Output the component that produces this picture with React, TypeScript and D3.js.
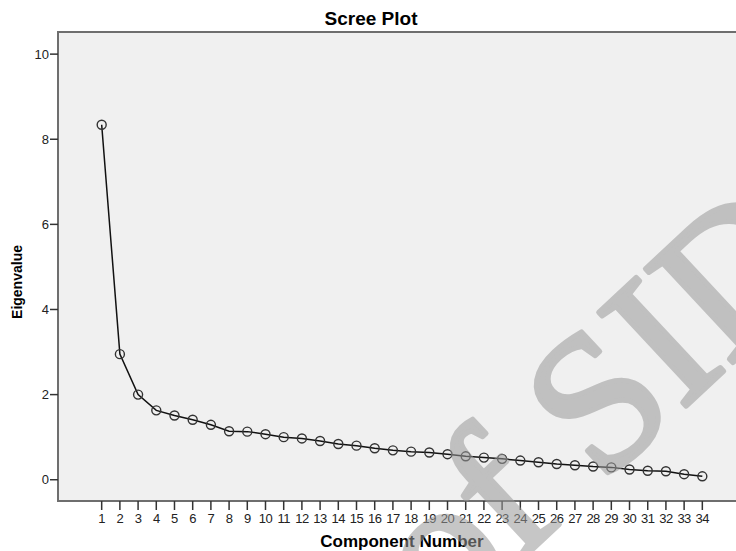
import * as d3 from "d3";
import { useEffect, useRef } from "react";

const components = d3.range(1, 35);
const eigenvalues = [
  8.34, 2.95, 2.0, 1.63, 1.51, 1.41, 1.29, 1.14, 1.13, 1.07,
  1.0, 0.97, 0.91, 0.84, 0.8, 0.74, 0.69, 0.66, 0.64, 0.6,
  0.55, 0.52, 0.49, 0.45, 0.41, 0.37, 0.34, 0.31, 0.29, 0.24,
  0.21, 0.2, 0.13, 0.08,
];
const yTicks = [0, 2, 4, 6, 8, 10];

const width = 736;
const height = 551;
const plotLeft = 58;
const plotTop = 32;
const plotBottom = 501;
const font = "Arial, 'Liberation Sans', sans-serif";

export default function App() {
  const ref = useRef<SVGSVGElement>(null);

  useEffect(() => {
    const svg = d3.select(ref.current);
    svg.selectAll("*").remove();

    const x = d3.scaleLinear([-1.4, 35.85], [plotLeft, width]);
    const y = d3.scaleLinear([-0.5, 10.52], [plotBottom, plotTop]);

    svg
      .append("rect")
      .attr("x", plotLeft)
      .attr("y", plotTop)
      .attr("width", width - plotLeft)
      .attr("height", plotBottom - plotTop)
      .attr("fill", "#f0f0f0");

    // frame: top, left, bottom
    svg
      .append("path")
      .attr("d", `M${width},${plotTop}H${plotLeft}V${plotBottom}H${width}`)
      .attr("fill", "none")
      .attr("stroke", "#6e6e6e")
      .attr("stroke-width", 2);

    // y axis
    const gy = svg.append("g");
    gy.selectAll("line")
      .data(yTicks)
      .enter()
      .append("line")
      .attr("x1", plotLeft - 8)
      .attr("x2", plotLeft)
      .attr("y1", (d) => y(d))
      .attr("y2", (d) => y(d))
      .attr("stroke", "#333")
      .attr("stroke-width", 1.5);
    gy.selectAll("text")
      .data(yTicks)
      .enter()
      .append("text")
      .attr("x", plotLeft - 9)
      .attr("y", (d) => y(d))
      .attr("dy", "0.36em")
      .attr("text-anchor", "end")
      .attr("font-family", font)
      .attr("font-size", 13)
      .attr("fill", "#222")
      .text((d) => d);

    // x axis
    const gx = svg.append("g");
    gx.selectAll("line")
      .data(components)
      .enter()
      .append("line")
      .attr("x1", (d) => x(d))
      .attr("x2", (d) => x(d))
      .attr("y1", plotBottom)
      .attr("y2", plotBottom + 9)
      .attr("stroke", "#333")
      .attr("stroke-width", 1.5);
    gx.selectAll("text")
      .data(components)
      .enter()
      .append("text")
      .attr("x", (d) => x(d))
      .attr("y", plotBottom + 22)
      .attr("text-anchor", "middle")
      .attr("font-family", font)
      .attr("font-size", 13)
      .attr("letter-spacing", -0.5)
      .attr("fill", "#222")
      .text((d) => d);

    // line and markers
    const line = d3
      .line<number>()
      .x((_, i) => x(components[i]))
      .y((d) => y(d));
    svg
      .append("path")
      .attr("d", line(eigenvalues))
      .attr("fill", "none")
      .attr("stroke", "#111")
      .attr("stroke-width", 1.5);
    svg
      .selectAll("circle")
      .data(eigenvalues)
      .enter()
      .append("circle")
      .attr("cx", (_, i) => x(components[i]))
      .attr("cy", (d) => y(d))
      .attr("r", 4.5)
      .attr("fill", "none")
      .attr("stroke", "#333")
      .attr("stroke-width", 1.4);

    // titles
    svg
      .append("text")
      .attr("x", 371)
      .attr("y", 25)
      .attr("text-anchor", "middle")
      .attr("font-family", font)
      .attr("font-weight", "bold")
      .attr("font-size", 19)
      .text("Scree Plot");
    svg
      .append("text")
      .attr("x", 402)
      .attr("y", 547)
      .attr("text-anchor", "middle")
      .attr("font-family", font)
      .attr("font-weight", "bold")
      .attr("font-size", 17)
      .text("Component Number");
    svg
      .append("text")
      .attr("transform", "translate(22,282) rotate(-90)")
      .attr("text-anchor", "middle")
      .attr("font-family", font)
      .attr("font-weight", "bold")
      .attr("font-size", 14)
      .text("Eigenvalue");

    // watermark
    svg
      .append("g")
      .attr("opacity", 0.55)
      .append("text")
      .attr("transform", "translate(446,630) rotate(-43)")
      .attr("font-family", "'Liberation Serif', 'Times New Roman', serif")
      .attr("font-size", 196)
      .attr("fill", "#999")
      .attr("stroke", "#999")
      .attr("stroke-width", 5)
      .attr("stroke-linejoin", "round")
      .text("of SID");
  }, []);

  return (
    <svg
      ref={ref}
      width={width}
      height={height}
      style={{ position: "absolute", left: 0, top: 0, background: "#fff" }}
    />
  );
}
